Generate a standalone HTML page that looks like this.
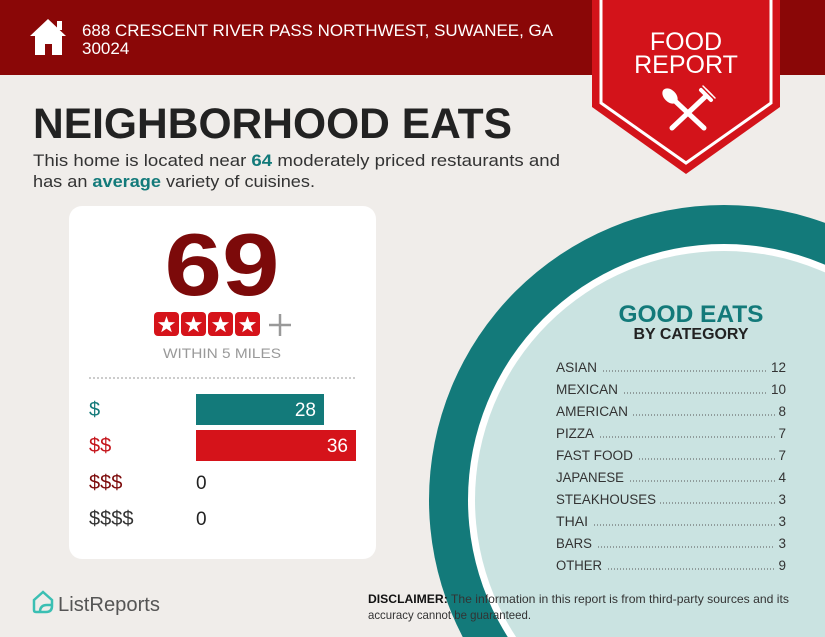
<!DOCTYPE html>
<html><head><meta charset="utf-8"><style>html,body{margin:0;padding:0;background:#f0edea;width:825px;height:637px;overflow:hidden}svg{display:block}text{font-family:"Liberation Sans",sans-serif}</style></head><body>
<svg width="825" height="637" viewBox="0 0 825 637" xmlns="http://www.w3.org/2000/svg">
<rect width="825" height="637" fill="#f0edea"/>
<circle cx="724" cy="500" r="295" fill="#137a7a"/>
<circle cx="724" cy="500" r="256" fill="#ffffff"/>
<circle cx="724" cy="500" r="249" fill="#cae3e1"/>
<rect width="825" height="75" fill="#8a0707"/>
<path d="M30 36 L48 19 L66 36 L62 36 L62 55 L52 55 L52 44 L45 44 L45 55 L35 55 L35 36 Z" fill="#fff"/>
<rect x="57" y="21" width="5" height="9" fill="#fff"/>
<text x="82" y="36" font-size="17" fill="#fff" textLength="471" lengthAdjust="spacingAndGlyphs">688 CRESCENT RIVER PASS NORTHWEST, SUWANEE, GA</text>
<text x="82" y="54" font-size="17" fill="#fff">30024</text>
<polygon points="592,0 780,0 780,107 686,174 592,107" fill="#d3131a"/>
<polyline points="601,0 601,103 686,163 771,103 771,0" fill="none" stroke="#fff" stroke-width="3"/>
<text x="686" y="50" font-size="25" fill="#fff" text-anchor="middle">FOOD</text>
<text x="686" y="73" font-size="25" fill="#fff" text-anchor="middle">REPORT</text>
<g stroke="#fff" stroke-linecap="round" fill="#fff">
<line x1="674" y1="100" x2="704" y2="128" stroke-width="5"/>
<ellipse cx="670" cy="96" rx="6" ry="9" transform="rotate(-45 670 96)" stroke="none"/>
<line x1="706" y1="96" x2="672" y2="128" stroke-width="5"/>
<line x1="701" y1="90" x2="711" y2="100" stroke-width="4"/>
<line x1="703" y1="86" x2="709" y2="92" stroke-width="1.5"/>
<line x1="706" y1="89" x2="712" y2="95" stroke-width="1.5"/>
<line x1="709" y1="92" x2="715" y2="98" stroke-width="1.5"/>
</g>
<text x="33" y="138" font-size="43" font-weight="bold" fill="#222" textLength="479" lengthAdjust="spacingAndGlyphs">NEIGHBORHOOD EATS</text>
<text x="33" y="166" font-size="16.5" fill="#333" textLength="527" lengthAdjust="spacingAndGlyphs">This home is located near <tspan font-weight="bold" fill="#137a7a">64</tspan> moderately priced restaurants and</text>
<text x="33" y="187" font-size="16.5" fill="#333" textLength="282" lengthAdjust="spacingAndGlyphs">has an <tspan font-weight="bold" fill="#137a7a">average</tspan> variety of cuisines.</text>
<rect x="69" y="206" width="307" height="353" rx="13" fill="#fff"/>
<text x="222" y="295" font-size="88" font-weight="bold" fill="#7c0a0a" text-anchor="middle" textLength="115" lengthAdjust="spacingAndGlyphs">69</text>
<g>
<rect x="154" y="312" width="25" height="24" rx="4" fill="#d5131a"/>
<rect x="181" y="312" width="25" height="24" rx="4" fill="#d5131a"/>
<rect x="208" y="312" width="25" height="24" rx="4" fill="#d5131a"/>
<rect x="235" y="312" width="25" height="24" rx="4" fill="#d5131a"/>
<g fill="#fff">
<polygon transform="translate(166.5 325)" points="0,-9 2.1,-2.9 8.6,-2.8 3.4,1.1 5.3,7.3 0,3.6 -5.3,7.3 -3.4,1.1 -8.6,-2.8 -2.1,-2.9"/>
<polygon transform="translate(193.5 325)" points="0,-9 2.1,-2.9 8.6,-2.8 3.4,1.1 5.3,7.3 0,3.6 -5.3,7.3 -3.4,1.1 -8.6,-2.8 -2.1,-2.9"/>
<polygon transform="translate(220.5 325)" points="0,-9 2.1,-2.9 8.6,-2.8 3.4,1.1 5.3,7.3 0,3.6 -5.3,7.3 -3.4,1.1 -8.6,-2.8 -2.1,-2.9"/>
<polygon transform="translate(247.5 325)" points="0,-9 2.1,-2.9 8.6,-2.8 3.4,1.1 5.3,7.3 0,3.6 -5.3,7.3 -3.4,1.1 -8.6,-2.8 -2.1,-2.9"/>
</g>
<path d="M280 314 V336 M269 325 H291" stroke="#999" stroke-width="2.5"/>
</g>
<text x="222" y="358" font-size="13.5" fill="#999" text-anchor="middle" textLength="118" lengthAdjust="spacingAndGlyphs">WITHIN 5 MILES</text>
<line x1="89" y1="378" x2="356" y2="378" stroke="#999" stroke-width="1" stroke-dasharray="2,2"/>
<rect x="196" y="394" width="128" height="31" fill="#137a7a"/>
<rect x="196" y="430" width="160" height="31" fill="#d5131a"/>
<text x="316" y="416" font-size="19" fill="#fff" text-anchor="end">28</text>
<text x="348" y="452" font-size="19" fill="#fff" text-anchor="end">36</text>
<text x="89" y="416" font-size="20" fill="#137a7a">$</text>
<text x="89" y="452" font-size="20" fill="#c4141a">$$</text>
<text x="89" y="489" font-size="20" fill="#7c0a0a">$$$</text>
<text x="89" y="525" font-size="20" fill="#333">$$$$</text>
<text x="196" y="489" font-size="19" fill="#222">0</text>
<text x="196" y="525" font-size="19" fill="#222">0</text>
<path d="M34 600 L43 592 L52 600 L52 606 Q52 612 46 612 L36 612 Q34 612 34 610 Z" fill="none" stroke="#3bbfb3" stroke-width="2.5"/>
<path d="M40 612 Q40 605 47 605 L52 605" fill="none" stroke="#3bbfb3" stroke-width="2.5"/>
<text x="58" y="611" font-size="20" fill="#555" textLength="102" lengthAdjust="spacingAndGlyphs">ListReports</text>
<text x="691" y="322" font-size="24" font-weight="bold" fill="#137a7a" text-anchor="middle" textLength="145" lengthAdjust="spacingAndGlyphs">GOOD EATS</text>
<text x="691" y="339" font-size="16" font-weight="bold" fill="#222" text-anchor="middle" textLength="115" lengthAdjust="spacingAndGlyphs">BY CATEGORY</text>
<g font-size="13.5" fill="#333">
<text x="556" y="372" textLength="41" lengthAdjust="spacingAndGlyphs">ASIAN</text><text x="786" y="372" text-anchor="end">12</text>
<text x="556" y="394" textLength="62" lengthAdjust="spacingAndGlyphs">MEXICAN</text><text x="786" y="394" text-anchor="end">10</text>
<text x="556" y="416" textLength="72" lengthAdjust="spacingAndGlyphs">AMERICAN</text><text x="786" y="416" text-anchor="end">8</text>
<text x="556" y="438" textLength="38" lengthAdjust="spacingAndGlyphs">PIZZA</text><text x="786" y="438" text-anchor="end">7</text>
<text x="556" y="460" textLength="77" lengthAdjust="spacingAndGlyphs">FAST FOOD</text><text x="786" y="460" text-anchor="end">7</text>
<text x="556" y="482" textLength="68" lengthAdjust="spacingAndGlyphs">JAPANESE</text><text x="786" y="482" text-anchor="end">4</text>
<text x="556" y="504" textLength="100" lengthAdjust="spacingAndGlyphs">STEAKHOUSES</text><text x="786" y="504" text-anchor="end">3</text>
<text x="556" y="526" textLength="32" lengthAdjust="spacingAndGlyphs">THAI</text><text x="786" y="526" text-anchor="end">3</text>
<text x="556" y="548" textLength="36" lengthAdjust="spacingAndGlyphs">BARS</text><text x="786" y="548" text-anchor="end">3</text>
<text x="556" y="570" textLength="46" lengthAdjust="spacingAndGlyphs">OTHER</text><text x="786" y="570" text-anchor="end">9</text>
</g>
<g stroke="#555" stroke-width="1" stroke-dasharray="1,2">
<line x1="603" y1="371" x2="768" y2="371"/>
<line x1="624" y1="393" x2="768" y2="393"/>
<line x1="633" y1="415" x2="775" y2="415"/>
<line x1="600" y1="437" x2="775" y2="437"/>
<line x1="639" y1="459" x2="775" y2="459"/>
<line x1="630" y1="481" x2="775" y2="481"/>
<line x1="660" y1="503" x2="775" y2="503"/>
<line x1="594" y1="525" x2="775" y2="525"/>
<line x1="598" y1="547" x2="775" y2="547"/>
<line x1="608" y1="569" x2="775" y2="569"/>
</g>
<text x="368" y="603" font-size="12" fill="#333" textLength="421" lengthAdjust="spacingAndGlyphs"><tspan font-weight="bold" fill="#111">DISCLAIMER:</tspan> The information in this report is from third-party sources and its</text>
<text x="368" y="619" font-size="12" fill="#333" textLength="163" lengthAdjust="spacingAndGlyphs">accuracy cannot be guaranteed.</text>
</svg>
</body></html>
